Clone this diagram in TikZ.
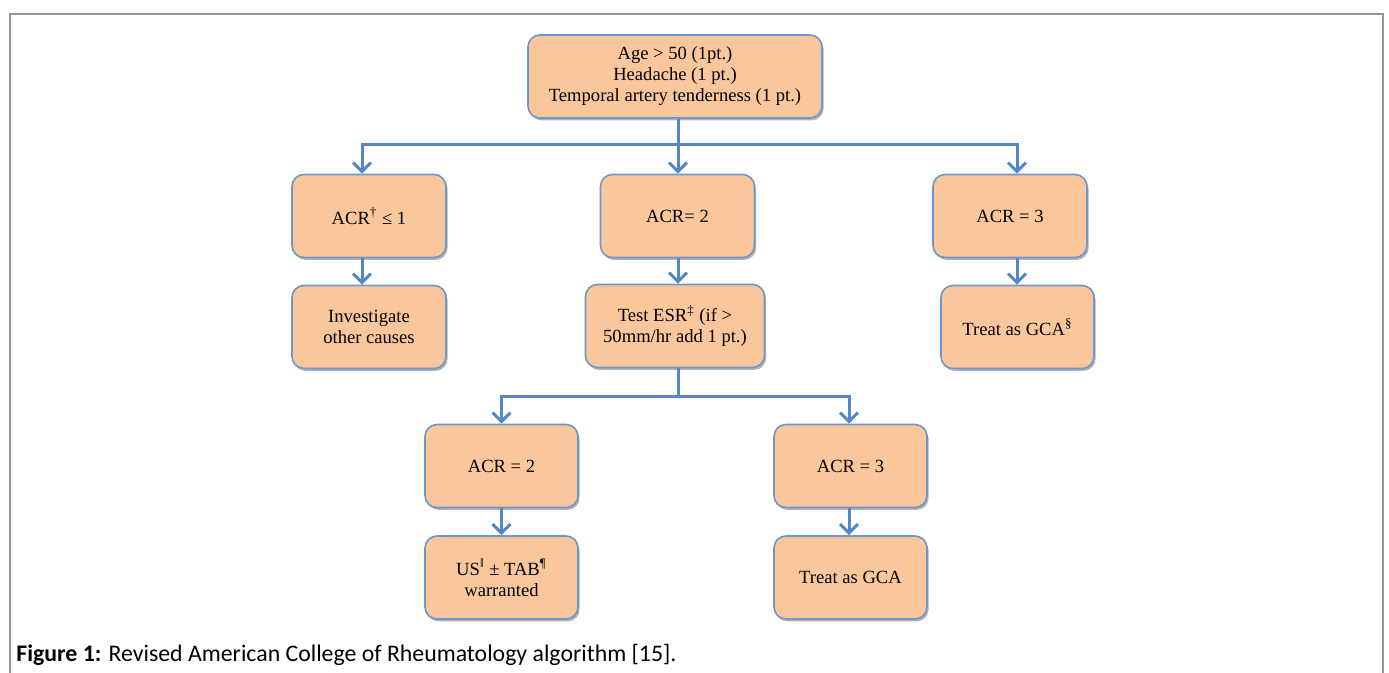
\documentclass[tikz,border=0pt]{standalone}
\usepackage{fontspec}
\setmainfont{Liberation Serif}
\newfontfamily\capfont{Carlito}
\usetikzlibrary{arrows.meta,shadows}
\definecolor{boxfill}{RGB}{250,199,157}
\definecolor{boxline}{RGB}{110,150,205}
\definecolor{arrowblue}{RGB}{84,135,196}
\definecolor{framegray}{RGB}{150,150,150}
\tikzset{
  flowbox/.style={draw=boxline, line width=0.8pt, fill=boxfill, rounded corners=6pt,
    minimum width=#1, minimum height=41.5pt, align=center, inner sep=2pt,
    font=\fontsize{9.3}{10.5}\selectfont,
    drop shadow={shadow xshift=0.8pt, shadow yshift=-1.2pt, opacity=0.3, fill=black}},
  conn/.style={draw=arrowblue, line width=1.5pt},
  arr/.style={conn, -{Straight Barb[length=4.5pt,width=9pt,line width=1.5pt]}}
}
\begin{document}
\begin{tikzpicture}[x=0.5pt,y=-0.5pt]
\useasboundingbox (0,0) rectangle (1389,673);
\draw[framegray, line width=1pt] (10,673) -- (10,14) -- (1383,14) -- (1383,673);

\node[flowbox=147pt] (top) at (675,76.5) {Age > 50 (1pt.)\\Headache (1 pt.)\\Temporal artery tenderness (1 pt.)};
\node[flowbox=77pt] (acr1) at (369,216) {ACR\textsuperscript{†} ≤ 1};
\node[flowbox=77pt] (acr2) at (677.5,216) {ACR= 2};
\node[flowbox=77pt] (acr3) at (1010,216) {ACR = 3};
\node[flowbox=77pt] (inv) at (369,327) {Investigate\\other causes};
\node[flowbox=89.5pt] (esr) at (675,326) {Test ESR\textsuperscript{‡} (if >\\50mm/hr add 1 pt.)};
\node[flowbox=76.5pt] (gcas) at (1017.5,327) {Treat as GCA\textsuperscript{§}};
\node[flowbox=76.5pt] (acr2b) at (501.5,466) {ACR = 2};
\node[flowbox=76.5pt] (acr3b) at (850.5,466) {ACR = 3};
\node[flowbox=76.5pt] (us) at (501.5,577.5) {US\textsuperscript{‖} ± TAB\textsuperscript{¶}\\warranted};
\node[flowbox=76.5pt] (gca) at (850.5,577.5) {Treat as GCA};

\coordinate (j1) at (678,145);
\draw[conn] ([xshift=1.5pt]top.south) -- (j1);
\draw[arr] (j1) -| ([xshift=-3.5pt]acr1.north);
\draw[arr] (j1) -| ([xshift=3.5pt]acr3.north);
\draw[arr] (j1) -- (j1 |- acr2.north);

\draw[arr] ([xshift=-3.5pt]acr1.south) -- ([xshift=-3.5pt]acr1.south |- inv.north);
\draw[arr] (acr2.south -| j1) -- (j1 |- esr.north);
\draw[arr] ([xshift=3.5pt]acr3.south) -- ([xshift=3.5pt]acr3.south |- gcas.north);

\coordinate (j2) at (678,397);
\draw[conn] (esr.south -| j2) -- (j2);
\draw[arr] (j2) -| (acr2b.north);
\draw[arr] (j2) -| ([xshift=-0.75pt]acr3b.north);
\draw[arr] (acr2b.south) -- (us.north);
\draw[arr] ([xshift=-0.75pt]acr3b.south) -- ([xshift=-0.75pt]gca.north);

\node[anchor=base west, inner sep=0, font=\capfont\fontsize{11.9}{14}\selectfont] (cap) at (16,662)
  {\textbf{Figure 1:} Revised American College of Rheumatology algorithm [15].};
\end{tikzpicture}
\end{document}
